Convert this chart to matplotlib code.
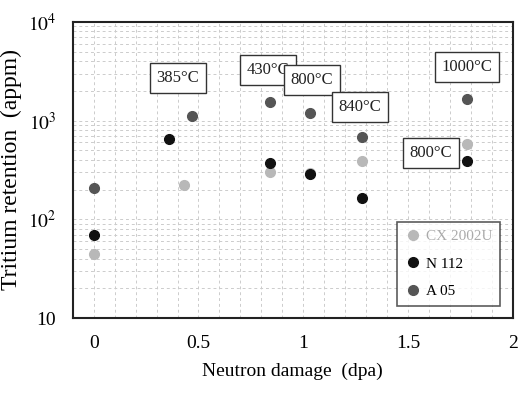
import matplotlib
matplotlib.use("Agg")
import matplotlib.pyplot as plt
from matplotlib.ticker import FixedLocator, LogLocator, NullFormatter

plt.rcParams['font.family'] = ['Liberation Serif', 'DejaVu Serif']
plt.rcParams['mathtext.fontset'] = 'stix'

# Data
cx_x = [0, 0.43, 0.84, 1.03, 1.28, 1.78]
cx_y = [44, 223, 302, 295, 390, 580]
n112_x = [0, 0.36, 0.84, 1.03, 1.28, 1.78]
n112_y = [69, 650, 372, 290, 164, 390]
a05_x = [0, 0.47, 0.84, 1.03, 1.28, 1.78]
a05_y = [207, 1110, 1550, 1200, 680, 1660]

labels = ["385°C", "430°C", "800°C", "840°C", "800°C", "1000°C"]
label_x = [0.40, 0.83, 1.04, 1.27, 1.61, 1.78]
label_y = [2700, 3250, 2580, 1370, 470, 3480]

xticks = [0, 0.5, 1, 1.5, 2]
xticklabels = ["0", "0.5", "1", "1.5", "2"]
yticks = [10, 100, 1000, 10000]
yticklabels = ["10", "$10^2$", "$10^3$", "$10^4$"]

fig = plt.figure(figsize=(5.2, 3.98), dpi=100)
ax = fig.add_axes([0.140, 0.201, 0.846, 0.744])

ax.set_yscale('log')
ax.set_xlim(-0.1, 2.0)
ax.set_ylim(10, 10000)

ax.plot(cx_x, cx_y, 'o', color='#b8b8b8', ms=7, label='CX 2002U', zorder=3)
ax.plot(n112_x, n112_y, 'o', color='#111111', ms=7, label='N 112', zorder=3)
ax.plot(a05_x, a05_y, 'o', color='#555555', ms=7, label='A 05', zorder=3)

for t, x, y in zip(labels, label_x, label_y):
    ax.text(x, y, t, ha='center', va='center', fontsize=12, color='#222222',
            bbox=dict(boxstyle='square,pad=0.4', fc='white', ec='#333333', lw=1.0), zorder=4)

ax.set_xticks(xticks)
ax.set_xticklabels(xticklabels, fontsize=14)
ax.set_yticks(yticks)
ax.set_yticklabels(yticklabels, fontsize=14)
ax.yaxis.set_minor_locator(LogLocator(base=10, subs=range(2, 10)))
ax.yaxis.set_minor_formatter(NullFormatter())
ax.xaxis.set_minor_locator(FixedLocator([i / 10 for i in range(-1, 21)]))
ax.tick_params(which='both', length=0, pad=12)

ax.grid(True, which='both', axis='both', linestyle=(0, (3, 3)), color='#cccccc', lw=0.7)
ax.set_axisbelow(True)
for s in ax.spines.values():
    s.set_linewidth(1.5)
    s.set_color('#222222')

ax.set_xlabel("Neutron damage  (dpa)", fontsize=14, labelpad=8)
ax.set_ylabel("Tritium retention  (appm)", fontsize=17, labelpad=4)

leg = ax.legend(loc='lower right', fontsize=11, frameon=True, fancybox=False,
                edgecolor='#333333', handletextpad=0.4, borderaxespad=0.8,
                labelspacing=0.9, handlelength=1.0, borderpad=0.5)
leg.get_frame().set_linewidth(1.2)
leg.get_texts()[0].set_color('#aaaaaa')

fig.savefig("out.png", dpi=100)
